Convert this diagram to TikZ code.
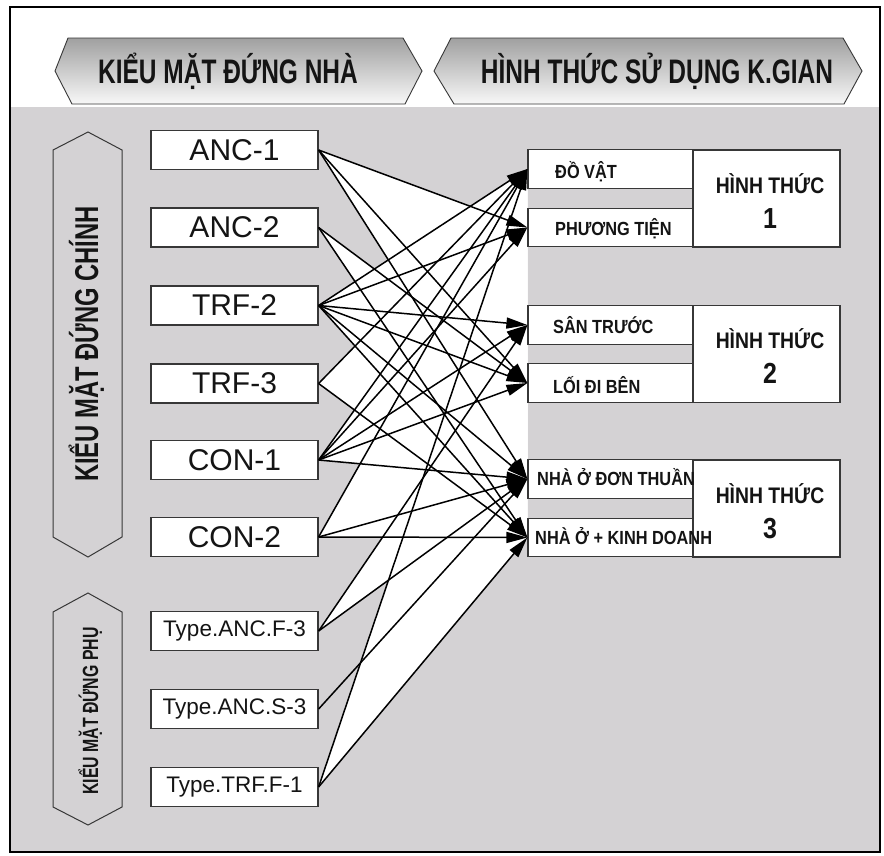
\documentclass[tikz,border=0pt]{standalone}
\usepackage{fontspec}
\setmainfont{Liberation Sans}
\newfontfamily\cf[FakeStretch=0.72]{Liberation Sans}
\newfontfamily\cfw[FakeStretch=0.86]{Liberation Sans}
\usetikzlibrary{arrows.meta}
\pgfdeclarelayer{bg}
\pgfsetlayers{bg,main}
\definecolor{panel}{RGB}{212,210,212}
\definecolor{edge}{RGB}{55,55,55}
\definecolor{ink}{RGB}{20,20,20}
\definecolor{hdrtop}{RGB}{160,160,160}
\definecolor{hdrbot}{RGB}{248,248,248}
\tikzset{
  srcbox/.style={draw=edge, line width=1.2pt, fill=white, minimum width=167pt, minimum height=39pt, inner sep=0pt, text=ink, font=\fontsize{30}{34}\selectfont},
  subbox/.style={srcbox, font=\fontsize{22.5}{26}\selectfont},
  tgtbox/.style={draw=edge, line width=1.2pt, fill=white, minimum width=165pt, minimum height=38.5pt, inner sep=0pt},
  bigbox/.style={draw=edge, line width=1.2pt, fill=white, minimum width=147pt, minimum height=97pt, inner sep=0pt},
  tgtlabel/.style={anchor=base west, inner sep=0pt, text=ink, font=\cfw\bfseries\fontsize{19}{22}\selectfont},
  biglabel/.style={anchor=base, inner sep=0pt, text=ink, font=\cfw\bfseries\fontsize{22.5}{26}\selectfont},
  bignum/.style={anchor=base, inner sep=0pt, text=ink, font=\cfw\bfseries\fontsize{29}{32}\selectfont},
  hdrlabel/.style={anchor=base, inner sep=0pt, text=ink, font=\cf\bfseries\fontsize{34}{38}\selectfont},
  sidelabel/.style={anchor=base, rotate=90, inner sep=0pt, text=ink},
  hdrshape/.style={top color=hdrtop, bottom color=hdrbot, draw=edge, line width=0.9pt},
  sideshape/.style={fill=panel, draw=edge, line width=1pt},
  arr/.style={-{Triangle[length=21pt,width=11pt]}, line width=1.5pt, black},
}
\begin{document}
\begin{tikzpicture}[x=1pt,y=-1pt]
\useasboundingbox (0,0) rectangle (884,855);

% header shapes
\shade[hdrshape] (68,38) -- (403,38) -- (422,71) -- (405,104) -- (72,104) -- (55,71) -- cycle;
\shade[hdrshape] (451,38) -- (843,38) -- (862,71) -- (844,104) -- (454,104) -- (434,71) -- cycle;
\node[hdrlabel] (hleft) at (228,83) {KIỂU MẶT ĐỨNG NHÀ};
\node[hdrlabel] (hright) at (657,83) {HÌNH THỨC SỬ DỤNG K.GIAN};

% side shapes
\draw[sideshape] (53,150) -- (88,132) -- (122,150) -- (122,537) -- (88,557) -- (53,537) -- cycle;
\draw[sideshape] (53,612) -- (88,593) -- (122,612) -- (122,807) -- (88,825) -- (53,807) -- cycle;
\node[sidelabel, font=\cf\bfseries\fontsize{33}{36}\selectfont] (vmain) at (98,344) {KIỂU MẶT ĐỨNG CHÍNH};
\node[sidelabel, font=\cf\bfseries\fontsize{22}{25}\selectfont] (vsub) at (98,711) {KIỂU MẶT ĐỨNG PHỤ};

% source boxes
\node[srcbox] (a1) at (234.5,150) {ANC-1};
\node[srcbox] (a2) at (234.5,227.5) {ANC-2};
\node[srcbox] (t2) at (234.5,305.5) {TRF-2};
\node[srcbox] (t3) at (234.5,383.5) {TRF-3};
\node[srcbox] (c1) at (234.5,460) {CON-1};
\node[srcbox] (c2) at (234.5,537) {CON-2};
\node[subbox] (f3) at (234.5,631) {Type.ANC.F-3};
\node[subbox] (s3) at (234.5,709) {Type.ANC.S-3};
\node[subbox] (tf) at (234.5,787) {Type.TRF.F-1};

% big boxes
\node[bigbox] (g1) at (766.5,198.5) {};
\node[bigbox] (g2) at (766.5,354) {};
\node[bigbox] (g3) at (766.5,508.5) {};
\node[biglabel] (g1a) at (770,193) {HÌNH THỨC};
\node[bignum] (g1b) at (770,228) {1};
\node[biglabel] (g2a) at (770,348) {HÌNH THỨC};
\node[bignum] (g2b) at (770,383) {2};
\node[biglabel] (g3a) at (770,503) {HÌNH THỨC};
\node[bignum] (g3b) at (770,538) {3};

% target boxes
\node[tgtbox] (dv) at (610.5,169) {};
\node[tgtbox] (pt) at (610.5,227.5) {};
\node[tgtbox] (st) at (610.5,325) {};
\node[tgtbox] (ld) at (610.5,383) {};
\node[tgtbox] (n1) at (610.5,479) {};
\node[tgtbox] (n2) at (610.5,537.5) {};
\node[tgtlabel] (dvl) at (555,178) {ĐỒ VẬT};
\node[tgtlabel] (ptl) at (555,235) {PHƯƠNG TIỆN};
\node[tgtlabel] (stl) at (553,333) {SÂN TRƯỚC};
\node[tgtlabel] (ldl) at (553,393) {LỐI ĐI BÊN};
\node[tgtlabel] (n1l) at (537,485) {NHÀ Ở ĐƠN THUẦN};
\node[tgtlabel] (n2l) at (535,544) {NHÀ Ở + KINH DOANH};

% background panel and fans
\begin{pgfonlayer}{bg}
  \fill[white] (10,7) rectangle (880,107);
  \fill[panel] (10,107) rectangle (880,852);
  \foreach \s/\a/\b in {a1/pt/n1, a2/ld/n2, t2/dv/n2, t3/dv/n2, c1/dv/n1, c2/dv/n2, f3/st/n1, tf/dv/n2}
    \fill[white] (\s.east) -- (\a.west) -- (\b.west) -- cycle;
\end{pgfonlayer}

% connectors
\foreach \s/\t in {a1/pt, a1/ld, a1/n1, a2/ld, a2/n2, t2/dv, t2/pt, t2/st, t2/ld, t2/n1, t2/n2, t3/dv, t3/n2, c1/dv, c1/pt, c1/st, c1/ld, c1/n1, c2/dv, c2/n1, c2/n2, f3/st, f3/n1, s3/n1, tf/dv, tf/n2}
  \draw[arr] (\s.east) -- (\t.west);

% frame
\draw[line width=1.6pt, black] (10,7) rectangle (880,852);
\end{tikzpicture}
\end{document}
